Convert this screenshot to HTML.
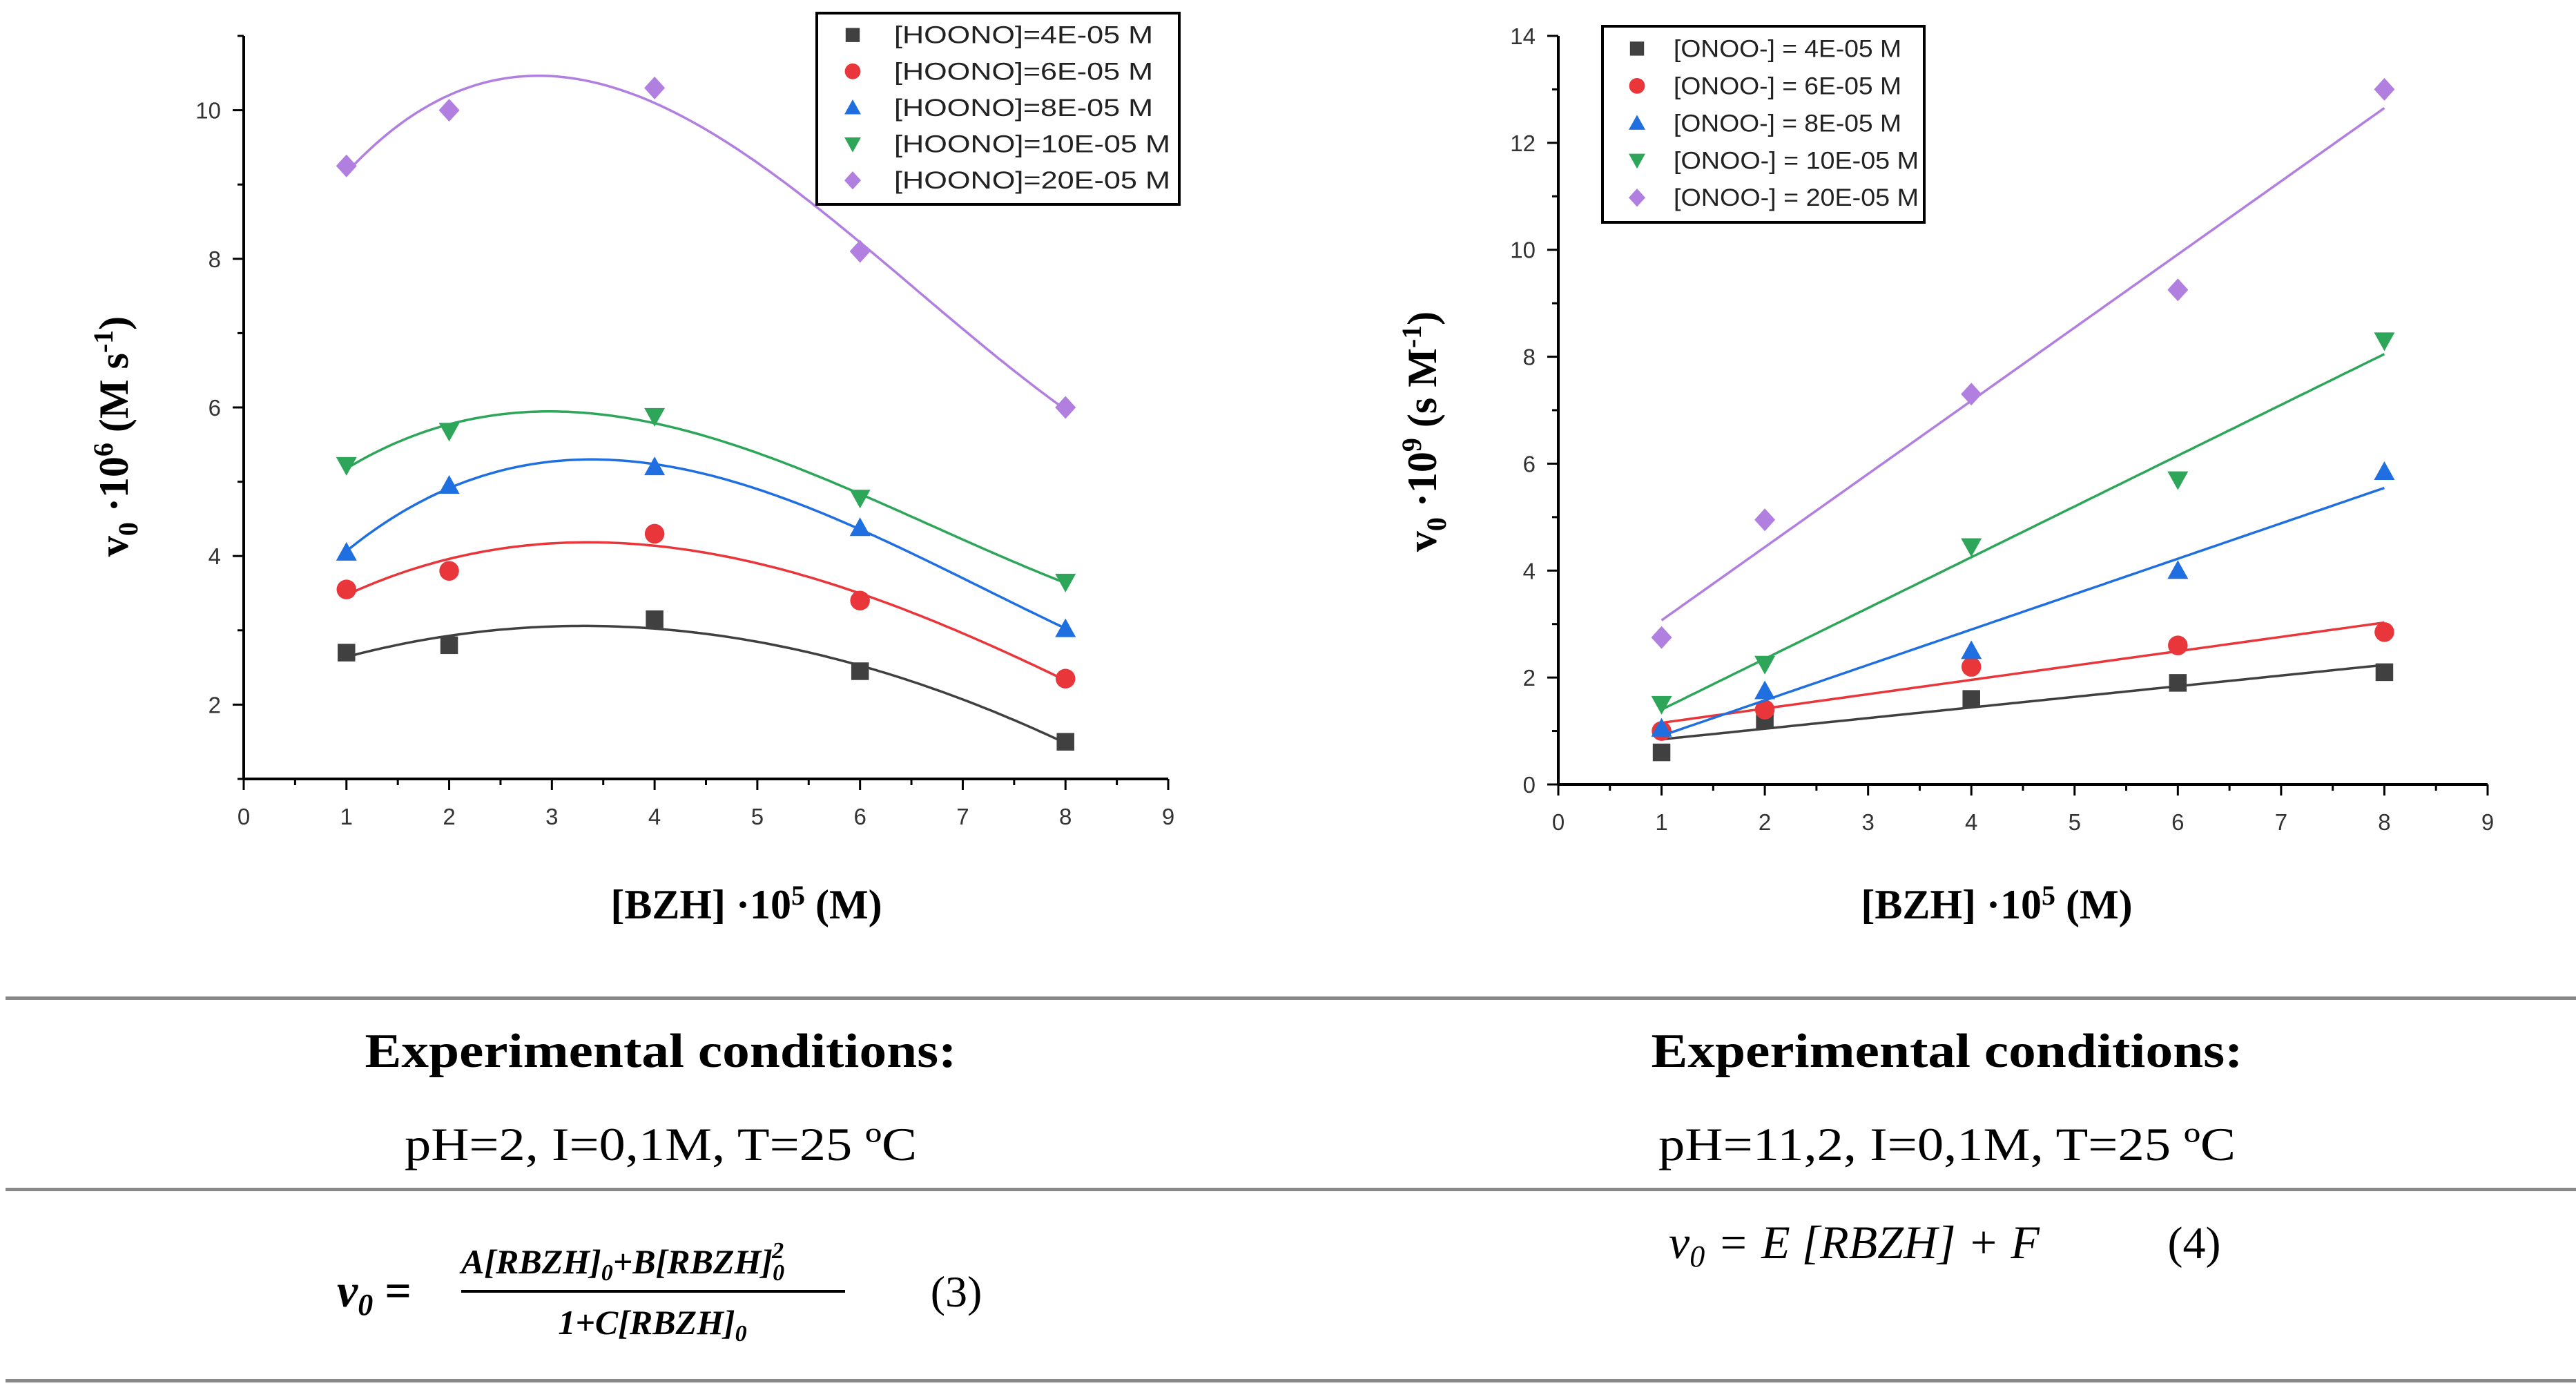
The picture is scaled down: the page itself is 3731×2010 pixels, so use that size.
<!DOCTYPE html>
<html><head><meta charset="utf-8"><style>
html,body{margin:0;padding:0;background:#fff}
svg{display:block}
text{font-family:"Liberation Sans",sans-serif}
.tk{font-size:33px;fill:#333}
.lg{font-size:35px;fill:#222}
.serif{font-family:"Liberation Serif",serif}
</style></head><body>
<svg id="fig" width="3731" height="2010" viewBox="0 0 3731 2010" xmlns="http://www.w3.org/2000/svg">
<g id="left"></g>
<g id="right"></g>
<g id="bottom">
<rect x="8" y="1443" width="3723" height="5" fill="#888"/>
<rect x="8" y="1720" width="3723" height="5" fill="#888"/>
<rect x="8" y="1997" width="3723" height="5" fill="#888"/>
<text x="957" y="1545" text-anchor="middle" class="serif" font-size="70" font-weight="bold" textLength="857" lengthAdjust="spacingAndGlyphs">Experimental conditions:</text>
<text x="2820" y="1545" text-anchor="middle" class="serif" font-size="70" font-weight="bold" textLength="857" lengthAdjust="spacingAndGlyphs">Experimental conditions:</text>
<text x="957" y="1680" text-anchor="middle" class="serif" font-size="68" textLength="742" lengthAdjust="spacingAndGlyphs">pH=2, I=0,1M, T=25 ºC</text>
<text x="2820" y="1680" text-anchor="middle" class="serif" font-size="68" textLength="836" lengthAdjust="spacingAndGlyphs">pH=11,2, I=0,1M, T=25 ºC</text>
<g>
<text x="488" y="1892" class="serif" font-size="68" font-weight="bold" font-style="italic">v<tspan font-size="44" dy="12">0</tspan><tspan dy="-12" font-style="normal"> =</tspan></text>
<text x="668" y="1844" class="serif" font-size="50" font-weight="bold" font-style="italic">A[RBZH]<tspan font-size="34" dy="10">0</tspan><tspan dy="-10">+B[RBZH]</tspan><tspan font-size="34" dy="10">0</tspan><tspan font-size="34" dx="-18" dy="-32">2</tspan></text>
<rect x="668" y="1868" width="556" height="4" fill="#000"/>
<text x="945" y="1932" text-anchor="middle" class="serif" font-size="50" font-weight="bold" font-style="italic">1+C[RBZH]<tspan font-size="34" dy="10">0</tspan></text>
<text x="1385" y="1892" text-anchor="middle" class="serif" font-size="64">(3)</text>
</g>
<g>
<text x="2417" y="1822" class="serif" font-size="68" font-style="italic">v<tspan font-size="44" dy="12">0</tspan><tspan dy="-12" dx="18">=</tspan><tspan dx="18">E [RBZH] + F</tspan></text>
<text x="3178" y="1822" text-anchor="middle" class="serif" font-size="66">(4)</text>
</g>
</g>
</svg>
<script>
// ---------- data ----------
const xCats = [1, 2, 4, 6, 8];
const leftSeriesNames = ["[HOONO]=4E-05 M","[HOONO]=6E-05 M","[HOONO]=8E-05 M","[HOONO]=10E-05 M","[HOONO]=20E-05 M"];
const leftBlack  = [2.7, 2.8, 3.15, 2.45, 1.5];
const leftRed    = [3.55, 3.8, 4.3, 3.4, 2.35];
const leftBlue   = [4.05, 4.95, 5.2, 4.38, 3.02];
const leftGreen  = [5.22, 5.68, 5.88, 4.78, 3.65];
const leftPurple = [9.25, 10.0, 10.3, 8.1, 6.0];
const rightSeriesNames = ["[ONOO-] = 4E-05 M","[ONOO-] = 6E-05 M","[ONOO-] = 8E-05 M","[ONOO-] = 10E-05 M","[ONOO-] = 20E-05 M"];
const rightBlack  = [0.6, 1.2, 1.6, 1.9, 2.1];
const rightRed    = [1.0, 1.4, 2.2, 2.6, 2.85];
const rightBlue   = [1.05, 1.75, 2.5, 4.0, 5.85];
const rightGreen  = [1.5, 2.25, 4.45, 5.7, 8.3];
const rightPurple = [2.75, 4.95, 7.3, 9.25, 13.0];
const xTicks = [0,1,2,3,4,5,6,7,8,9];
const leftYTicks = [2,4,6,8,10];
const rightYTicks = [0,2,4,6,8,10,12,14];

const colors = ["#404040","#e8363a","#1f6fe0","#2ea65a","#b07fe0"];
const markers = ["square","circle","up","down","diamond"];
const NS = "http://www.w3.org/2000/svg";
function mk(tag, attrs, parent){ const e=document.createElementNS(NS,tag); for(const k in attrs) e.setAttribute(k,attrs[k]); parent.appendChild(e); return e; }

function marker(g, type, cx, cy, r, col){
  let e;
  if(type==="square") e=mk("rect",{x:cx-r*0.85,y:cy-r*0.85,width:r*1.7,height:r*1.7,fill:col},g);
  else if(type==="circle") e=mk("circle",{cx:cx,cy:cy,r:r*0.95,fill:col},g);
  else if(type==="up") e=mk("polygon",{points:`${cx},${cy-r} ${cx+r},${cy+r*0.8} ${cx-r},${cy+r*0.8}`,fill:col},g);
  else if(type==="down") e=mk("polygon",{points:`${cx},${cy+r} ${cx+r},${cy-r*0.8} ${cx-r},${cy-r*0.8}`,fill:col},g);
  else e=mk("polygon",{points:`${cx},${cy-r*1.1} ${cx+r},${cy} ${cx},${cy+r*1.1} ${cx-r},${cy}`,fill:col},g);
  return e;
}

function polyfit(xs, ys, deg){
  const n=deg+1, A=[], b=[];
  for(let i=0;i<n;i++){A.push(new Array(n).fill(0)); b.push(0);}
  xs.forEach((x,k)=>{for(let i=0;i<n;i++){b[i]+=ys[k]*Math.pow(x,i);for(let j=0;j<n;j++)A[i][j]+=Math.pow(x,i+j);}});
  for(let i=0;i<n;i++){let p=i;for(let r=i+1;r<n;r++)if(Math.abs(A[r][i])>Math.abs(A[p][i]))p=r;
    [A[i],A[p]]=[A[p],A[i]];[b[i],b[p]]=[b[p],b[i]];
    for(let r=0;r<n;r++){if(r===i)continue;const f=A[r][i]/A[i][i];for(let c=i;c<n;c++)A[r][c]-=f*A[i][c];b[r]-=f*b[i];}}
  return b.map((v,i)=>v/A[i][i]);
}

function chart(cfg){
  const g=document.getElementById(cfg.id);
  const X=v=>cfg.x0+(v-0)*(cfg.x1-cfg.x0)/9;
  const Y=v=>cfg.y0-(v-cfg.ymin)*(cfg.y0-cfg.y1)/(cfg.ymax-cfg.ymin);
  const ax=mk("g",{},g);
  
  
  mk("line",{x1:cfg.x0,y1:cfg.y0,x2:cfg.x1,y2:cfg.y0,stroke:"#000","stroke-width":4},ax);
  mk("line",{x1:cfg.x0,y1:cfg.y0,x2:cfg.x0,y2:cfg.y1,stroke:"#000","stroke-width":4},ax);
  for(let v=0;v<=9;v+=0.5){
    const maj=Number.isInteger(v);
    mk("line",{x1:X(v),y1:cfg.y0,x2:X(v),y2:cfg.y0+(maj?16:9),stroke:"#000","stroke-width":3},ax);
  }
  xTicks.forEach(v=>{
    const t=mk("text",{x:X(v),y:cfg.y0+66,"text-anchor":"middle",class:"tk"},ax);
    
    
    t.textContent=v;
  });
  for(let v=Math.ceil(cfg.ymin);v<=cfg.ymax;v+=1){
    const maj=cfg.yTicks.includes(v);
    mk("line",{x1:cfg.x0,y1:Y(v),x2:cfg.x0-(maj?16:9),y2:Y(v),stroke:"#000","stroke-width":3},ax);
  }
  cfg.yTicks.forEach(v=>{
    const t=mk("text",{x:cfg.x0-33,y:Y(v)+12,"text-anchor":"end",class:"tk"},ax);
    
    
    t.textContent=v;
  });
  const xt=mk("text",{x:cfg.xtx,y:1330,"text-anchor":"middle",class:"serif","font-size":60,"font-weight":"bold"},g);
  
  
  xt.innerHTML='[BZH] ·10<tspan font-size="40" dy="-20">5</tspan><tspan dy="20"> (M)</tspan>';
  const yt=mk("text",{x:0,y:0,"text-anchor":"middle",class:"serif","font-size":60,"font-weight":"bold",transform:`translate(${cfg.ytx},${cfg.yty}) rotate(-90)`},g);
  
  
  yt.innerHTML=cfg.ytitle;
  cfg.series.forEach((ys,i)=>{
    const sg=mk("g",{},g);
    
    
    const c=polyfit(xCats,ys,cfg.deg);
    let d="";
    for(let k=0;k<=140;k++){const x=1+7*k/140;let y=0;c.forEach((a,j)=>y+=a*Math.pow(x,j));d+=(k?"L":"M")+X(x).toFixed(1)+","+Y(y).toFixed(1);}
    const p=mk("path",{d:d,fill:"none",stroke:colors[i],"stroke-width":3.5},sg);
    
    
    ys.forEach((v,k)=>{
      const m=marker(sg,markers[i],X(xCats[k]),Y(v),15,colors[i]);
      
      
    });
  });
  const lg=mk("g",{},g);
  
  
  mk("rect",{x:cfg.lx,y:cfg.ly,width:cfg.lw,height:cfg.lh,fill:"#fff",stroke:"#000","stroke-width":4},lg);
  cfg.names.forEach((n,i)=>{
    const ry=cfg.ly+cfg.lh*(0.1+0.19*i)+4;
    const e=mk("g",{},lg);
    
    
    marker(e,markers[i],cfg.lx+cfg.mdx,ry,12,colors[i]);
    const t=mk("text",{x:cfg.lx+cfg.tdx,y:ry+12,class:"lg",textLength:cfg.tl[i],lengthAdjust:"spacingAndGlyphs"},e);
    t.textContent=n;
  });
}

chart({id:"left",x0:353,x1:1692,y0:1128,y1:52,ymin:1,ymax:11,yTicks:leftYTicks,deg:3,
  series:[leftBlack,leftRed,leftBlue,leftGreen,leftPurple],names:leftSeriesNames,
  xtx:1081,ytx:185,yty:632,
  ytitle:'v<tspan font-size="40" dy="14">0</tspan><tspan dy="-14"> ·10</tspan><tspan font-size="40" dy="-22">6</tspan><tspan dy="22"> (M s</tspan><tspan font-size="40" dy="-22">-1</tspan><tspan dy="22">)</tspan>',
  lx:1183,ly:19,lw:525,lh:277,mdx:52,tdx:112,tl:[375,375,375,400,400]});
chart({id:"right",x0:2257,x1:3603,y0:1136,y1:52,ymin:0,ymax:14,yTicks:rightYTicks,deg:1,
  series:[rightBlack,rightRed,rightBlue,rightGreen,rightPurple],names:rightSeriesNames,
  xtx:2892,ytx:2080,yty:625,
  ytitle:'v<tspan font-size="40" dy="14">0</tspan><tspan dy="-14"> ·10</tspan><tspan font-size="40" dy="-22">9</tspan><tspan dy="22"> (s M</tspan><tspan font-size="40" dy="-22">-1</tspan><tspan dy="22">)</tspan>',
  lx:2321,ly:38,lw:466,lh:284,mdx:50,tdx:103,tl:[330,330,330,355,355]});
</script>
</body></html>
